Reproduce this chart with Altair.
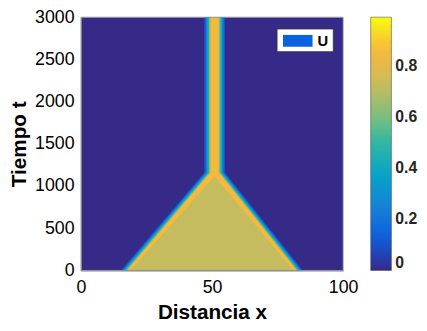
import altair as alt
import pandas as pd

# parula-like colormap stops (positions spread evenly over the domain)
PARULA = ["#352a87", "#0f5cdd", "#1481d6", "#06a4ca", "#2eb7a4",
          "#87bf77", "#d1bb59", "#f8b93c", "#f9fb0e"]

# background (U = 0 everywhere)
t_bg = [0, 3000]
x_bg_left = [0, 0]
x_bg_right = [100, 100]
v_bg = 0.0

# outer front (orange ridge) : triangle collapsing into a thin stripe
t_front = [0, 1160, 3000]
x_front_left = [17.6, 49.4, 49.4]
x_front_right = [82.3, 52.6, 52.6]
v_front = 0.86

# inner plateau (olive) of the triangle
t_core = [0, 1120]
x_core_left = [18.9, 51.0]
x_core_right = [81.0, 51.0]
v_core = 0.72

# soft edge of the front: widths outside the ridge and their values
fringe_width = [2.4, 1.8, 1.2, 0.6]
fringe_value = [0.10, 0.25, 0.42, 0.60]

x_ticks = [0, 50, 100]
y_ticks = [0, 500, 1000, 1500, 2000, 2500, 3000]
cbar_ticks = [0, 0.2, 0.4, 0.6, 0.8]
legend_label = "U"

FONT = "Liberation Sans"
TXT = "#262626"

W, H = 266, 257


def band(ts, xl, xr, v):
    return pd.DataFrame({"t": ts, "x0": xl, "x1": xr, "v": [v] * len(ts)})


color = alt.Color(
    "v:Q",
    scale=alt.Scale(domain=[0, 0.99], range=PARULA, interpolate="rgb"),
    legend=alt.Legend(
        orient="none", legendX=294, legendY=0, direction="vertical",
        gradientLength=H, gradientThickness=21, title=None,
        values=cbar_ticks,
        labelExpr="datum.value == 0 ? '0' : format(datum.value, '.1f')",
        labelFont=FONT, labelFontSize=16, labelFontWeight="bold",
        labelColor=TXT, labelOffset=4, labelBaseline="middle",
        labelOverlap=False,
        gradientStrokeColor="#555555", gradientStrokeWidth=0.6,
    ),
)

xenc = alt.X(
    "x0:Q",
    scale=alt.Scale(domain=[0, 100], nice=False, zero=False),
    axis=alt.Axis(values=x_ticks, title="Distancia x", grid=False, ticks=False,
                  labelFlush=False, labelPadding=8, labelFontSize=18,
                  titleFontSize=21, titleX=W / 2, titleY=49,
                  titleBaseline="alphabetic", domainColor="#888888",
                  format="d", zindex=1),
)
yenc = alt.Y(
    "t:Q",
    scale=alt.Scale(domain=[0, 3000], nice=False, zero=False),
    axis=alt.Axis(values=y_ticks, title="Tiempo t", grid=False, ticks=False,
                  labelFlush=False, labelPadding=7, labelFontSize=18,
                  titleFontSize=21, titleAngle=270, titleX=-62, titleY=H / 2,
                  titleBaseline="middle", titleAlign="center",
                  domainColor="#888888", format="d", zindex=1),
)


def area_layer(df):
    return alt.Chart(df).mark_area(orient="horizontal", clip=True).encode(
        x=xenc, x2="x1:Q", y=yenc, color=color
    )


layers = [area_layer(band(t_bg, x_bg_left, x_bg_right, v_bg))]
for w, v in zip(fringe_width, fringe_value):
    layers.append(area_layer(band(
        t_front,
        [x - w for x in x_front_left],
        [x + w for x in x_front_right],
        v,
    )))
layers.append(area_layer(band(t_front, x_front_left, x_front_right, v_front)))
layers.append(area_layer(band(t_core, x_core_left, x_core_right, v_core)))

one = pd.DataFrame({"k": [0]})
frame = alt.Chart(one).mark_rect(fillOpacity=0, stroke="#9a9a9a", strokeWidth=0.8).encode(
    x=alt.value(0), x2=alt.value(W), y=alt.value(0), y2=alt.value(H))
leg_box = alt.Chart(one).mark_rect(fill="white", stroke="#333333", strokeWidth=0.8).encode(
    x=alt.value(199), x2=alt.value(256), y=alt.value(12), y2=alt.value(35))
leg_sym = alt.Chart(one).mark_rect(fill="#0b62e0").encode(
    x=alt.value(205), x2=alt.value(235), y=alt.value(18), y2=alt.value(30))
leg_txt = alt.Chart(pd.DataFrame({"lab": [legend_label]})).mark_text(
    font=FONT, fontSize=15, fontWeight="bold", color="black",
    align="left", baseline="middle").encode(
    x=alt.value(240), y=alt.value(24), text="lab:N")

chart = alt.layer(*layers, frame, leg_box, leg_sym, leg_txt).properties(
    width=W, height=H,
    autosize=alt.AutoSizeParams(type="none"),
    padding={"left": 74, "top": 7, "right": 77, "bottom": 51},
).configure_view(stroke=None).configure_axis(
    labelFont=FONT, titleFont=FONT, labelFontWeight="bold",
    titleFontWeight="bold", labelColor=TXT, titleColor=TXT,
).configure(background="white")

chart.save("out.html", embed_options={"renderer": "svg", "actions": False})
